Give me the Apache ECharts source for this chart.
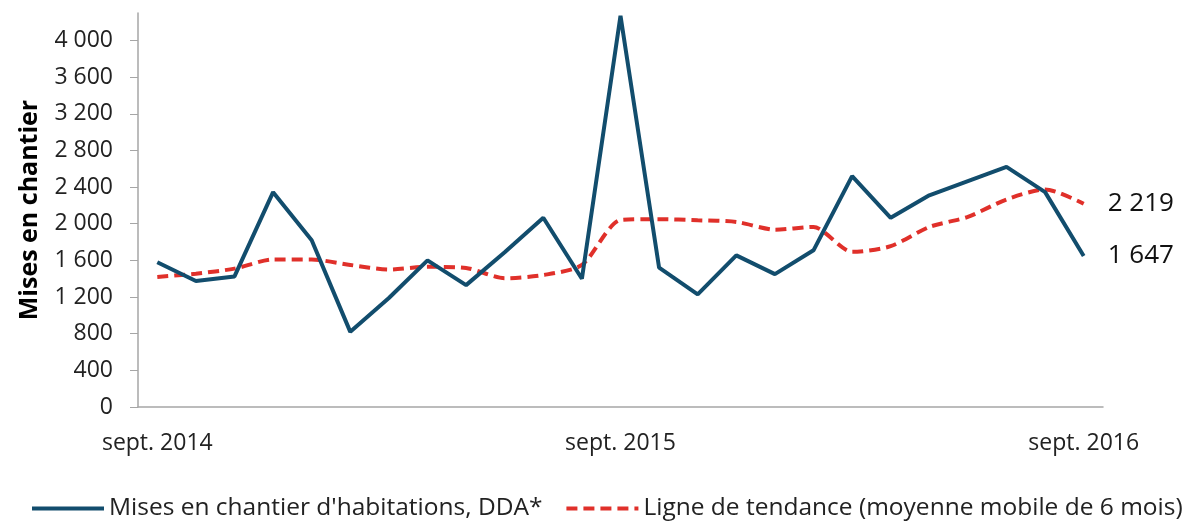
<!DOCTYPE html>
<html>
<head>
<meta charset="utf-8">
<script src="https://cdn.jsdelivr.net/npm/echarts@6/dist/echarts.min.js"></script>
<style>
  html, body { margin: 0; padding: 0; background: #fff; }
  #chart { width: 1186px; height: 522px; }
</style>
</head>
<body>
<div id="chart"></div>
<script>
// mois de sept. 2014 à sept. 2016
const months = [
  "sept. 2014", "oct. 2014", "nov. 2014", "déc. 2014", "janv. 2015", "févr. 2015",
  "mars 2015", "avr. 2015", "mai 2015", "juin 2015", "juil. 2015", "août 2015",
  "sept. 2015", "oct. 2015", "nov. 2015", "déc. 2015", "janv. 2016", "févr. 2016",
  "mars 2016", "avr. 2016", "mai 2016", "juin 2016", "juil. 2016", "août 2016",
  "sept. 2016"
];
const misesEnChantier = [
  1580, 1375, 1425, 2345, 1820, 820, 1190, 1600, 1330, 1690, 2065, 1400,
  4270, 1520, 1230, 1655, 1450, 1710, 2520, 2065, 2310, 2465, 2620, 2345,
  1647
];
const tendance = [
  1420, 1455, 1510, 1610, 1610, 1550, 1500, 1530, 1518, 1405, 1440, 1550,
  2040, 2050, 2038, 2020, 1935, 1965, 1693, 1755, 1965, 2075, 2265, 2375,
  2219
];
const yTicks = [0, 400, 800, 1200, 1600, 2000, 2400, 2800, 3200, 3600, 4000];

const font = "'Open Sans', sans-serif";
const fmt = v => String(v).replace(/\B(?=(\d{3})+(?!\d))/g, " ");

const chart = echarts.init(document.getElementById("chart"));
chart.setOption({
  animation: false,
  grid: { left: 138, right: 83, top: 13, bottom: 115 },
  legend: {
    bottom: -4,
    left: 25,
    width: 1200,
    itemWidth: 72,
    itemHeight: 14,
    itemGap: 22,
    itemStyle: { opacity: 0 },
    lineStyle: { width: 4 },
    textStyle: { fontFamily: font, fontSize: 24.5, color: "#222" },
    data: ["Mises en chantier d'habitations, DDA*", "Ligne de tendance (moyenne mobile de 6 mois)"]
  },
  xAxis: {
    type: "category",
    data: months,
    boundaryGap: true,
    axisLine: { lineStyle: { color: "#a6a6a6", width: 1.5 } },
    axisTick: { interval: 11, length: 8, lineStyle: { color: "#a6a6a6" } },
    axisLabel: {
      interval: 11,
      margin: 25,
      fontFamily: font,
      fontSize: 23,
      color: "#222"
    }
  },
  yAxis: {
    type: "value",
    min: 0,
    max: 4300,
    name: "Mises en chantier",
    nameLocation: "middle",
    nameGap: 96,
    nameTextStyle: { fontFamily: font, fontSize: 25, fontWeight: "bold", color: "#000" },
    axisLine: { show: true, lineStyle: { color: "#a6a6a6", width: 1.5 } },
    axisTick: { show: true, length: 8, customValues: yTicks, lineStyle: { color: "#a6a6a6" } },
    axisLabel: {
      customValues: yTicks,
      margin: 25,
      fontFamily: font,
      fontSize: 23,
      color: "#222",
      formatter: fmt
    },
    splitLine: { show: false }
  },
  series: [
    {
      name: "Mises en chantier d'habitations, DDA*",
      type: "line",
      data: misesEnChantier,
      symbol: "none",
      lineStyle: { color: "#124d6d", width: 4 },
      itemStyle: { color: "#124d6d" },
      endLabel: {
        show: true,
        distance: 24,
        fontFamily: font,
        fontSize: 26,
        color: "#111",
        formatter: p => fmt(p.value)
      },
      z: 3
    },
    {
      name: "Ligne de tendance (moyenne mobile de 6 mois)",
      type: "line",
      data: tendance,
      symbol: "none",
      smooth: 0.25,
      lineStyle: { color: "#e0302a", width: 4, type: [11, 6] },
      itemStyle: { color: "#e0302a" },
      endLabel: {
        show: true,
        distance: 24,
        fontFamily: font,
        fontSize: 26,
        color: "#111",
        formatter: p => fmt(p.value)
      },
      z: 2
    }
  ]
});
</script>
</body>
</html>
